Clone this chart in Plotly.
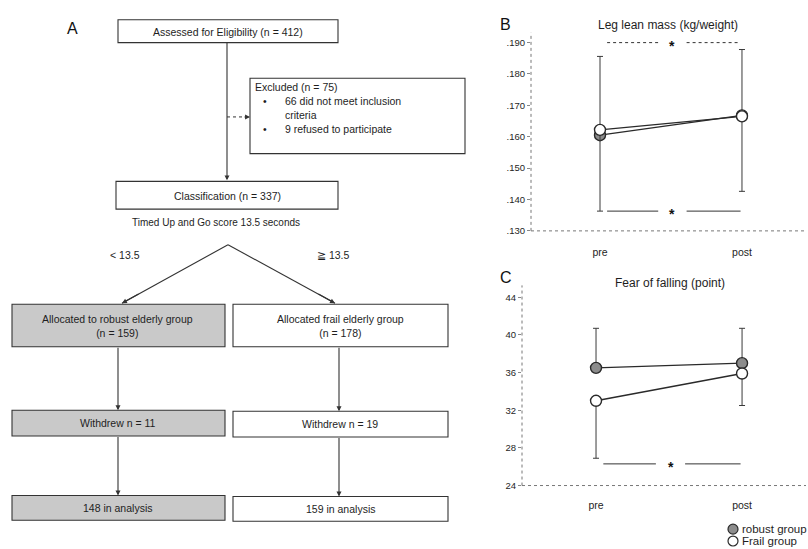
import plotly.graph_objects as go

W, H = 808, 549

# ---------------- data (panels B and C) ----------------
timepoints = ["pre", "post"]

lean_robust = [0.1605, 0.1668]
lean_robust_sd_plus = [0.0251, 0.0210]
lean_frail = [0.1622, 0.1665]
lean_frail_sd_minus = [0.0259, 0.0239]

fear_robust = [36.5, 37.0]
fear_robust_sd_plus = [4.2, 3.7]
fear_frail = [33.0, 35.9]
fear_frail_sd_minus = [6.1, 3.4]

lean_tickvals = [0.130, 0.140, 0.150, 0.160, 0.170, 0.180, 0.190]
lean_ticktext = [".130", ".140", ".150", ".160", ".170", ".180", ".190"]
fear_tickvals = [24, 28, 32, 36, 40, 44]
fear_ticktext = ["24", "28", "32", "36", "40", "44"]

lean_sig_top = 0.190
lean_sig_bottom = 0.1363
fear_sig_bottom = 26.3

# ---------------- flowchart texts (panel A) ----------------
box_assessed = "Assessed for Eligibility (n = 412)"
box_excluded = ["Excluded (n = 75)", "66 did not meet inclusion", "criteria", "9 refused to participate"]
box_class = "Classification (n = 337)"
tug_text = "Timed Up and Go score 13.5 seconds"
split_left = "< 13.5"
split_right = "≧ 13.5"
robust_boxes = ["Allocated to robust elderly group<br>(n = 159)", "Withdrew n = 11", "148 in analysis"]
frail_boxes = ["Allocated frail elderly group<br>(n = 178)", "Withdrew n = 19", "159 in analysis"]

FONT = "Liberation Sans, Arial, sans-serif"
INK = "#2a2a2a"
TXT = "#1e1e1e"


def X(px):
    return px / W


def Y(py):
    return 1 - py / H


fig = go.Figure()

mk_robust = dict(size=11, color="#8c8c8c", line=dict(color=INK, width=1.4))
mk_frail = dict(size=11, color="white", line=dict(color=INK, width=1.4))


def add_pair(xa, ya, rob, rob_plus, fr, fr_minus):
    fig.add_trace(go.Scatter(
        x=timepoints, y=rob, mode="lines+markers", xaxis=xa, yaxis=ya,
        marker=mk_robust, line=dict(color=INK, width=1.4),
        error_y=dict(type="data", symmetric=False, array=rob_plus, arrayminus=[0, 0],
                     color="#3a3a3a", thickness=1, width=3),
        showlegend=False, name="robust group"))
    fig.add_trace(go.Scatter(
        x=timepoints, y=fr, mode="lines+markers", xaxis=xa, yaxis=ya,
        marker=mk_frail, line=dict(color=INK, width=1.4),
        error_y=dict(type="data", symmetric=False, array=[0, 0], arrayminus=fr_minus,
                     color="#3a3a3a", thickness=1, width=3),
        showlegend=False, name="Frail group"))


add_pair("x", "y", lean_robust, lean_robust_sd_plus, lean_frail, lean_frail_sd_minus)
add_pair("x2", "y2", fear_robust, fear_robust_sd_plus, fear_frail, fear_frail_sd_minus)

shapes = []
annotations = []

# ---- axes lines (dotted) ----
for xr, yr in (("x", "y"), ("x2", "y2")):
    shapes.append(dict(type="line", xref=f"{xr} domain", yref=f"{yr} domain",
                       x0=0, x1=0, y0=0, y1=1, line=dict(color="#777", width=1, dash="dot")))
    shapes.append(dict(type="line", xref=f"{xr} domain", yref=f"{yr} domain",
                       x0=0, x1=1, y0=0, y1=0, line=dict(color="#777", width=1, dash="dot")))


# ---- significance brackets ----
def bracket(xr, yr, yval, dash):
    for a, b in ((0.05, 0.41), (0.61, 0.99)):
        shapes.append(dict(type="line", xref=xr, yref=yr, x0=a, x1=b, y0=yval, y1=yval,
                           line=dict(color="#333", width=1, dash=dash)))
    annotations.append(dict(xref=xr, yref=yr, x=0.51, y=yval, text="<b>*</b>", showarrow=False,
                            font=dict(size=14, color="#111", family=FONT), yshift=-3))


bracket("x", "y", lean_sig_top, "dot")
bracket("x", "y", lean_sig_bottom, "solid")
bracket("x2", "y2", fear_sig_bottom, "solid")


def text(x, y, s, anchor="center", size=10.5, color=TXT):
    annotations.append(dict(xref="paper", yref="paper", x=X(x), y=Y(y), text=s, showarrow=False,
                            xanchor=anchor, yanchor="middle",
                            font=dict(size=size, color=color, family=FONT)))


# ---- panel titles / letters ----
text(668, 25, "Leg lean mass (kg/weight)", size=12)
text(670, 286, "Fear of falling (point)", size=12)
text(72, 29, "A", size=16, color="#111")
text(505, 25, "B", size=16, color="#111")
text(506, 280, "C", size=16, color="#111")

# ---- legend (custom) ----
for yy, fill, label in ((534, "#8c8c8c", "robust group"), (546, "white", "Frail group")):
    shapes.append(dict(type="circle", xref="paper", yref="paper",
                       x0=X(728), x1=X(738), y0=Y(yy + 5), y1=Y(yy - 5),
                       fillcolor=fill, line=dict(color=INK, width=1.2)))
    text(740, yy, label, "left", size=11.5)


# ---- flowchart boxes ----
def box(x0, y0, x1, y1, fill="white"):
    shapes.append(dict(type="rect", xref="paper", yref="paper",
                       x0=X(x0), x1=X(x1), y0=Y(y1), y1=Y(y0),
                       fillcolor=fill, line=dict(color="#333", width=1.1), layer="below"))


def arrow(x0, y0, x1, y1):
    annotations.append(dict(x=X(x1), y=Y(y1), ax=x0 - x1, ay=y0 - y1, xref="paper", yref="paper",
                            axref="pixel", ayref="pixel", text="", showarrow=True,
                            arrowhead=2, arrowsize=0.9, arrowwidth=1.1, arrowcolor="#333",
                            standoff=0, startstandoff=0))


GRAY = "#c9c9c9"
box(118, 20, 338, 43)
text(228, 32, box_assessed)
box(250, 79, 465, 155)
text(253, 88, box_excluded[0], "left")
text(261, 102, "•", "left")
text(283, 102, box_excluded[1], "left")
text(283, 116, box_excluded[2], "left")
text(261, 130, "•", "left")
text(283, 130, box_excluded[3], "left")
box(116, 183, 338, 211)
text(228, 198, box_class)
text(216, 225, tug_text, size=10)
text(108, 257, split_left, "left")
text(315, 257, split_right, "left")

box(12, 307, 225, 350, GRAY)
box(233, 307, 448, 350)
text(118, 329, robust_boxes[0])
text(340, 329, frail_boxes[0])
box(12, 414, 225, 440, GRAY)
box(233, 415, 448, 441)
text(118, 427, robust_boxes[1])
text(340, 428, frail_boxes[1])
box(12, 500, 225, 525, GRAY)
box(233, 501, 448, 526)
text(118, 513, robust_boxes[2])
text(340, 514, frail_boxes[2])

arrow(227, 43, 227, 182)
shapes.append(dict(type="line", xref="paper", yref="paper", x0=X(227), x1=X(244), y0=Y(118), y1=Y(118),
                   line=dict(color="#333", width=1, dash="dot")))
arrow(243, 118, 250, 118)
shapes.append(dict(type="line", xref="paper", yref="paper", x0=X(228), x1=X(122), y0=Y(247), y1=Y(306),
                   line=dict(color="#333", width=1.1)))
shapes.append(dict(type="line", xref="paper", yref="paper", x0=X(228), x1=X(335), y0=Y(247), y1=Y(306),
                   line=dict(color="#333", width=1.1)))
arrow(140, 296, 122, 306)
arrow(317, 296, 335, 306)
arrow(118, 350, 118, 414)
arrow(339, 350, 339, 415)
arrow(118, 440, 118, 500)
arrow(339, 441, 339, 501)

axis_common = dict(showgrid=False, zeroline=False, showline=False)
fig.update_layout(
    width=W, height=H, autosize=False,
    margin=dict(l=0, r=0, t=0, b=0),
    paper_bgcolor="white", plot_bgcolor="rgba(0,0,0,0)",
    font=dict(family=FONT, color=TXT),
    showlegend=False,
    xaxis=dict(domain=[X(531), X(806)], anchor="y", type="category", range=[-0.486, 1.451],
               ticks="", tickfont=dict(size=10.5), ticklabelstandoff=14, **axis_common),
    yaxis=dict(domain=[Y(233), Y(33)], anchor="x", range=[0.130, 0.19316],
               tickvals=lean_tickvals, ticktext=lean_ticktext, ticks="outside", ticklen=3,
               tickcolor="#888", tickfont=dict(size=9.5), **axis_common),
    xaxis2=dict(domain=[X(522), X(806)], anchor="y2", type="category", range=[-0.507, 1.438],
                ticks="", tickfont=dict(size=10.5), ticklabelstandoff=12, **axis_common),
    yaxis2=dict(domain=[Y(490), Y(288)], anchor="x2", range=[24, 45.26],
                tickvals=fear_tickvals, ticktext=fear_ticktext, ticks="outside", ticklen=3,
                tickcolor="#888", tickfont=dict(size=9.5), **axis_common),
    shapes=shapes,
    annotations=annotations,
)

fig.write_html(
    "out.html",
    config={"displayModeBar": False},
    post_script="document.body.style.margin='0';document.body.style.overflow='hidden';",
)
